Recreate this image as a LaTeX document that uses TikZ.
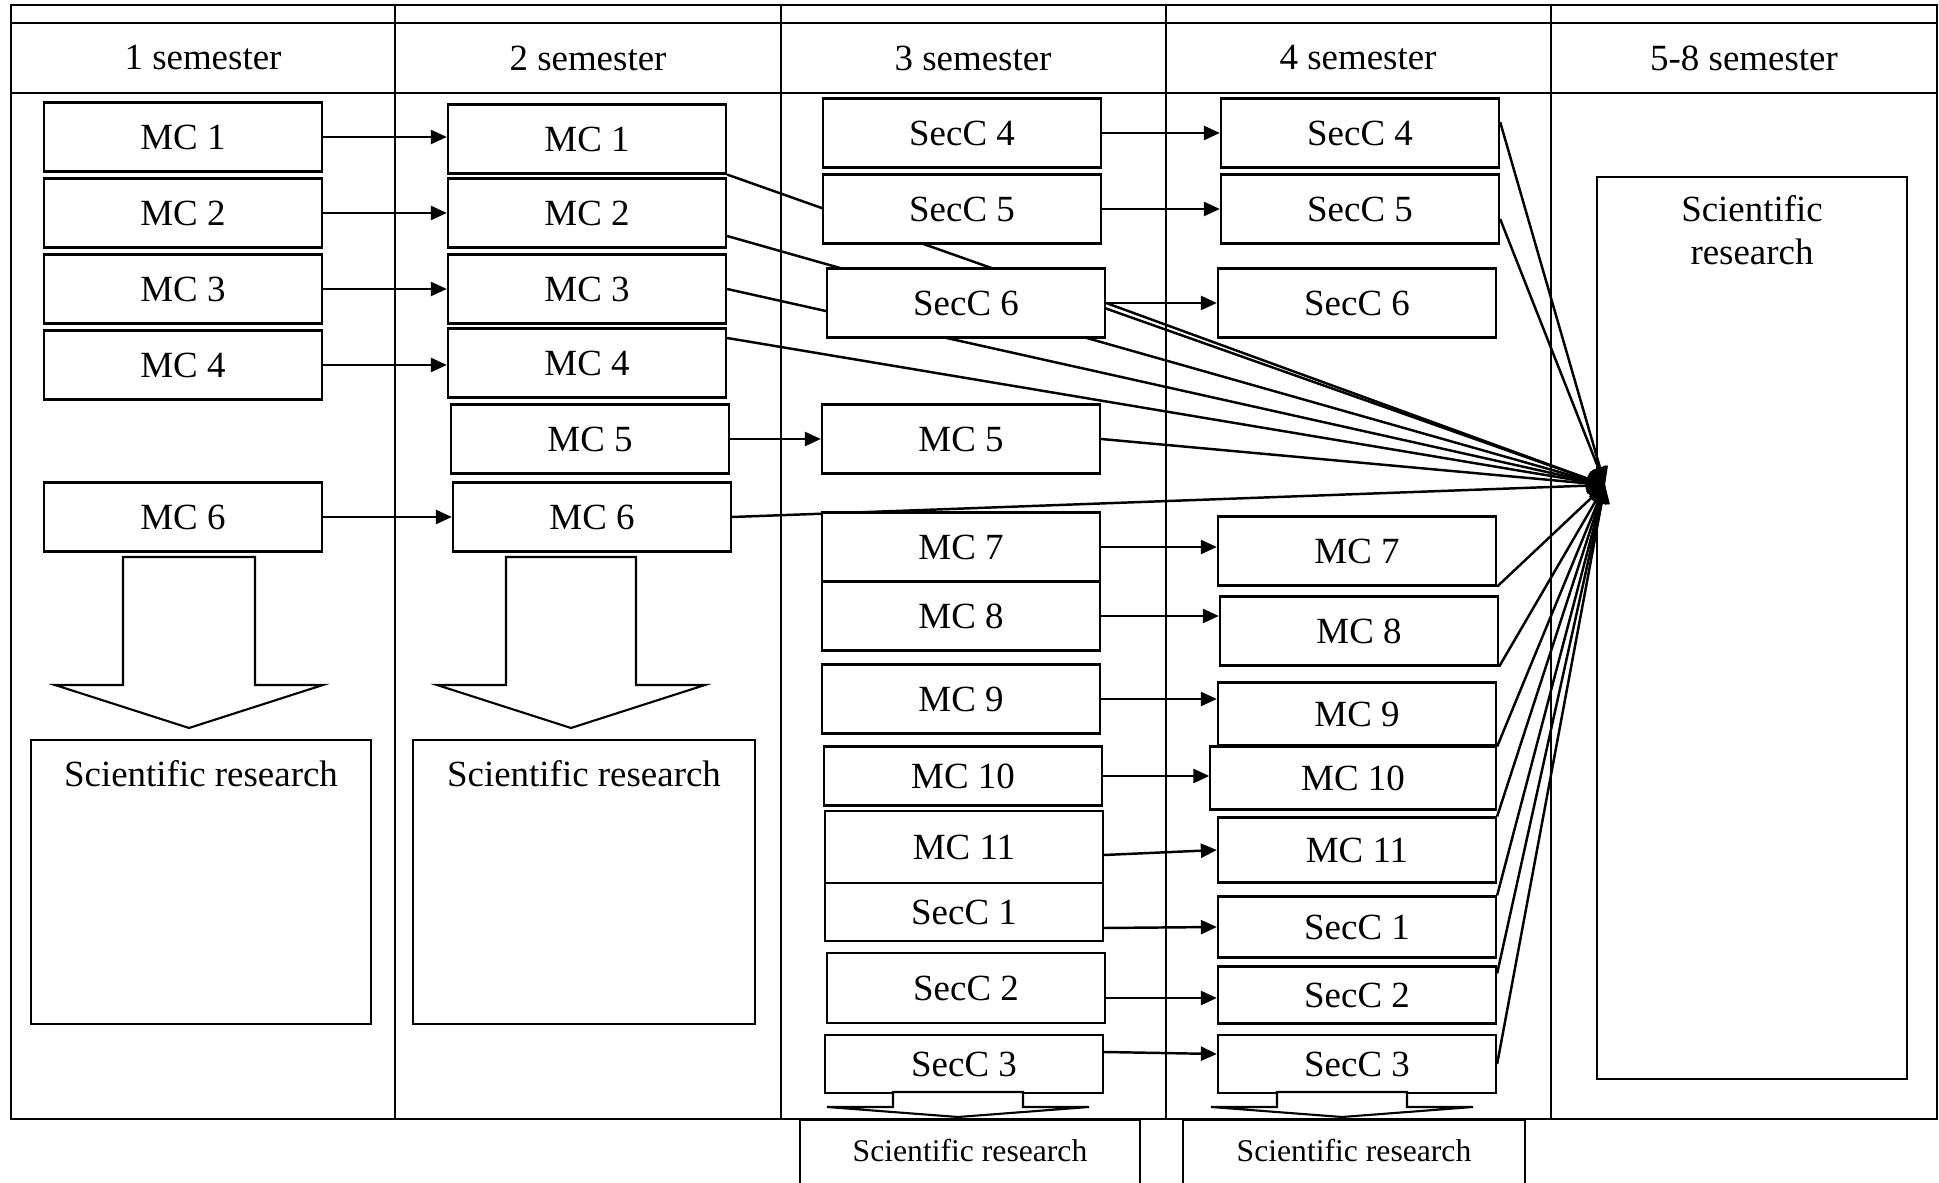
\documentclass[tikz,border=0pt]{standalone}
\usepackage{fontspec}
\setmainfont{Liberation Serif}
\usetikzlibrary{arrows.meta,calc}
\pgfdeclarelayer{background}
\pgfsetlayers{background,main}

% hollow block arrow: x, top, head base, tip, half shaft, half head
\newcommand{\blockdown}[6]{%
  \draw[fill=white] (#1-#5,#2) -- (#1-#5,#3) -- (#1-#6,#3) -- (#1,#4)
    -- (#1+#6,#3) -- (#1+#5,#3) -- (#1+#5,#2) -- cycle;}

\begin{document}
\begin{tikzpicture}[x=0.01cm, y=-0.01cm, line width=0.6pt,
    font=\fontsize{10.5pt}{12.6pt}\selectfont,
    cbox/.style={draw, fill=white, inner sep=0pt, minimum width=2.78cm, minimum height=0.69cm},
    srbox/.style={draw, fill=white, inner sep=0pt, anchor=north},
    arr/.style={line width=0.7pt, -{Triangle[length=0.16cm,width=0.14cm]}},
    feed/.style={line width=0.7pt, -{Triangle[length=0.18cm,width=0.16cm]}}]

  \useasboundingbox (0,0) rectangle (1939,1183);
  \clip (0,0) rectangle (1939,1183);

  % table
  \draw (11,5) rectangle (1937,1119);
  \draw (11,23) -- (1937,23);
  \draw (11,93) -- (1937,93);
  \foreach \x in {395,781,1166,1551} \draw (\x,5) -- (\x,1119);
  \foreach \x/\t [count=\i] in {203/1 semester, 588/2 semester, 973/3 semester,
      1358/4 semester, 1744/5-8 semester}
    \node (h\i) at (\x,58) {\t};

  % semester 1
  \node[cbox] (a1) at (183,137) {MC 1};
  \node[cbox] (a2) at (183,213) {MC 2};
  \node[cbox] (a3) at (183,289) {MC 3};
  \node[cbox] (a4) at (183,365) {MC 4};
  \node[cbox] (a6) at (183,517) {MC 6};
  \node[srbox, minimum width=3.40cm, text height=0.46cm, text depth=2.38cm] (sr1) at (201,739) {Scientific research};

  % semester 2
  \node[cbox] (b1) at (587,139) {MC 1};
  \node[cbox] (b2) at (587,213) {MC 2};
  \node[cbox] (b3) at (587,289) {MC 3};
  \node[cbox] (b4) at (587,363) {MC 4};
  \node[cbox] (b5) at (590,439) {MC 5};
  \node[cbox] (b6) at (592,517) {MC 6};
  \node[srbox, minimum width=3.41cm, text height=0.46cm, text depth=2.38cm] (sr2) at (584,739) {Scientific research};

  % semester 3
  \node[cbox] (c4s) at (962,133) {SecC 4};
  \node[cbox] (c5s) at (962,209) {SecC 5};
  \node[cbox] (c6s) at (966,303) {SecC 6};
  \node[cbox] (c5) at (961,439) {MC 5};
  \node[cbox] (c7) at (961,547) {MC 7};
  \node[cbox] (c8) at (961,616) {MC 8};
  \node[cbox] (c9) at (961,699) {MC 9};
  \node[cbox, minimum height=0.59cm] (c10) at (963,776) {MC 10};
  \node[cbox, minimum height=0.72cm] (c11) at (964,847) {MC 11};
  \node[cbox, minimum height=0.58cm] (c1s) at (964,912) {SecC 1};
  \node[cbox, minimum height=0.70cm] (c2s) at (966,988) {SecC 2};
  \node[cbox, minimum height=0.58cm] (c3s) at (964,1064) {SecC 3};
  \node[srbox, minimum width=3.39cm, text height=0.41cm, text depth=0.45cm,
    font=\fontsize{9pt}{11pt}\selectfont] (sr3) at (970,1119) {Scientific research};

  % semester 4
  \node[cbox] (d4s) at (1360,133) {SecC 4};
  \node[cbox] (d5s) at (1360,209) {SecC 5};
  \node[cbox] (d6s) at (1357,303) {SecC 6};
  \node[cbox] (d7) at (1357,551) {MC 7};
  \node[cbox] (d8) at (1359,631) {MC 8};
  \node[cbox, minimum height=0.63cm] (d9) at (1357,714) {MC 9};
  \node[cbox, minimum width=2.85cm, minimum height=0.63cm] (d10) at (1353,778) {MC 10};
  \node[cbox, minimum height=0.65cm] (d11) at (1357,850) {MC 11};
  \node[cbox, minimum height=0.61cm] (d1s) at (1357,927) {SecC 1};
  \node[cbox, minimum height=0.57cm] (d2s) at (1357,995) {SecC 2};
  \node[cbox, minimum height=0.58cm] (d3s) at (1357,1064) {SecC 3};
  \node[srbox, minimum width=3.41cm, text height=0.41cm, text depth=0.45cm,
    font=\fontsize{9pt}{11pt}\selectfont] (sr4) at (1354,1119) {Scientific research};

  % semesters 5-8
  \node[srbox, fill=none, minimum width=3.10cm, align=center, text height=0.87cm, text depth=8.14cm,
    font=\fontsize{10.5pt}{12pt}\selectfont] (sr5) at (1752,176) {Scientific\\research};
  \coordinate (conv) at (1605,485);

  % block arrows down to research
  \blockdown{189}{557}{685}{728}{66}{134}
  \blockdown{571}{557}{685}{728}{65}{134}
  \blockdown{958}{1092}{1107}{1117}{65}{131}
  \blockdown{1342}{1092}{1107}{1117}{65}{131}

  % semester 1 -> 2
  \foreach \s/\t in {a1/b1, a2/b2, a3/b3, a4/b4, a6/b6}
    \draw[arr] (\s.east) -- (\s.east -| \t.west);
  \draw[arr] (b5.east) -- (c5.west);

  % semester 3 -> 4
  \foreach \s/\t in {c4s/d4s, c5s/d5s, c6s/d6s, c7/d7, c8/d8, c9/d9, c10/d10}
    \draw[arr] (\s.east) -- (\s.east -| \t.west);
  \draw[arr] ($(c11.east)+(0,8)$) -- (d11.west);
  \draw[arr] ($(c1s.east)+(0,16)$) -- (d1s.west);
  \draw[arr] ($(c2s.east)+(0,10)$) -- ($(c2s.east -| d2s.west)+(0,10)$);
  \draw[arr] ($(c3s.east)+(0,-12)$) -- ($(d3s.west)+(0,-10)$);

  % everything feeds the research in 5-8
  \begin{pgfonlayer}{background}
    \foreach \s/\dy in {b1.south east/0, b2.east/23, b3.east/0, b4.east/-25,
        b6.east/0, c6s.east/0, c5.east/0, d4s.east/-11, d5s.east/10,
        d7.south east/0, d8.south east/0, d9.south east/0, d11.north east/0,
        d1s.north east/0, d2s.north east/8, d3s.east/0}
      \draw[feed] ($(\s)+(0,\dy)$) -- (conv);
  \end{pgfonlayer}
\end{tikzpicture}
\end{document}
